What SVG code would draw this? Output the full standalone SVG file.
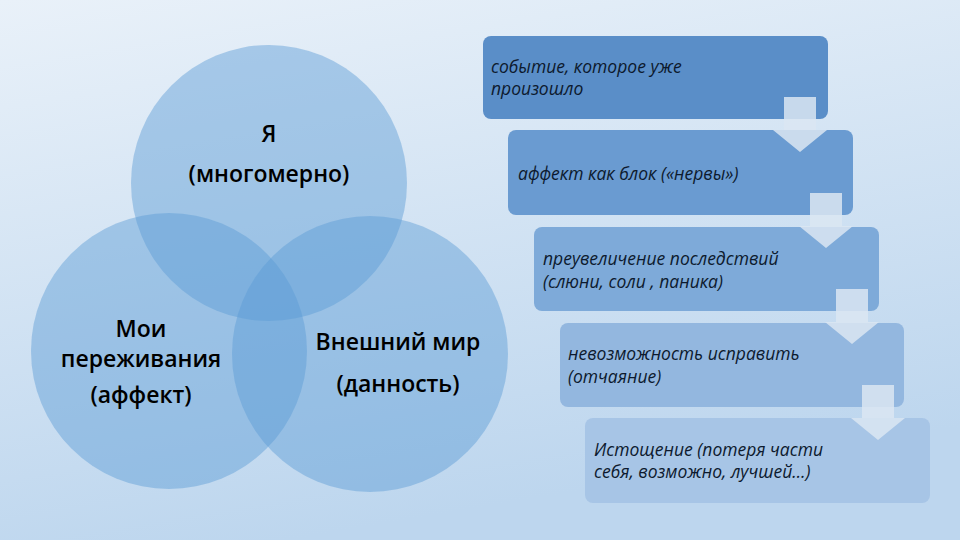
<svg xmlns="http://www.w3.org/2000/svg" width="960" height="540" viewBox="0 0 960 540">
<defs>
<linearGradient id="bg" x1="0" y1="0" x2="0.3" y2="1">
<stop offset="0" stop-color="#e9f1f9"/>
<stop offset="1" stop-color="#bdd6ee"/>
</linearGradient>
<style>
.c{fill:#5b9bd5;fill-opacity:0.45}
.ct{font-family:"Open Sans","Noto Sans",sans-serif;font-weight:600;font-size:23px;fill:#000;text-anchor:middle}
.bt{font-family:"Open Sans","Noto Sans",sans-serif;font-style:italic;font-size:17.5px;fill:#0d1a2e}
.ar{fill:#dbe6f2;fill-opacity:0.85}
</style>
</defs>
<rect width="960" height="540" fill="url(#bg)"/>
<g id="venn">
<g id="ya"><circle class="c" cx="269" cy="183" r="138"/></g>
<g id="moi"><circle class="c" cx="169" cy="351" r="138"/></g>
<g id="mir"><circle class="c" cx="370" cy="354" r="138"/></g>
<text class="ct" x="269" y="142">Я</text>
<text class="ct" x="269" y="182">(многомерно)</text>
<text class="ct" x="141" y="337">Мои</text>
<text class="ct" x="141" y="367">переживания</text>
<text class="ct" x="141" y="403">(аффект)</text>
<text class="ct" x="398" y="350">Внешний мир</text>
<text class="ct" x="398" y="392">(данность)</text>
</g>
<g id="b1"><rect x="483" y="36" width="345" height="83" rx="8" fill="#5a8ec8"/>
<text class="bt" x="491" y="73">событие, которое уже</text><text class="bt" x="491" y="95">произошло</text></g>
<g id="b2"><rect x="508" y="130" width="345" height="85" rx="8" fill="#6a9bd1"/>
<text class="bt" x="518" y="180">аффект как блок («нервы»)</text></g>
<g id="b3"><rect x="534" y="227" width="345" height="84" rx="8" fill="#7eaad9"/>
<text class="bt" x="543" y="265">преувеличение последствий</text><text class="bt" x="543" y="288">(слюни, соли , паника)</text></g>
<g id="b4"><rect x="560" y="323" width="344" height="84" rx="8" fill="#93b7df"/>
<text class="bt" x="568" y="360">невозможность исправить</text><text class="bt" x="568" y="383">(отчаяние)</text></g>
<g id="b5"><rect x="585" y="418" width="345" height="85" rx="8" fill="#a7c5e6"/>
<text class="bt" x="594" y="456">Истощение (потеря части</text><text class="bt" x="594" y="478">себя, возможно, лучшей…)</text></g>
<g id="connectors">
<path class="ar" d="M784 97 H816 V130 H827 L800 152 L773 130 H784 Z"/>
<path class="ar" d="M810 193 H842 V226 H853 L826 248 L799 226 H810 Z"/>
<path class="ar" d="M836 289 H868 V322 H879 L852 344 L825 322 H836 Z"/>
<path class="ar" d="M862 385 H894 V418 H905 L878 440 L851 418 H862 Z"/>
</g>
</svg>
